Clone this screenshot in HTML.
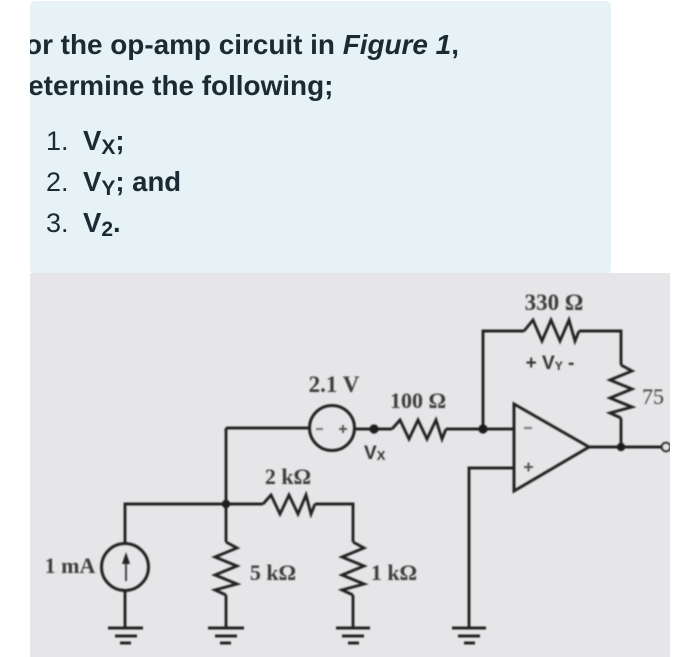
<!DOCTYPE html>
<html>
<head>
<meta charset="utf-8">
<style>
html,body{margin:0;padding:0;background:#fff;width:700px;height:657px;overflow:hidden}
svg{display:block}
.t{font-family:"Liberation Sans",sans-serif;fill:#1b2a33}
.s{font-family:"Liberation Serif",serif;font-weight:bold;fill:#3a3a3a;font-size:22px}
.w{fill:none;stroke:#242424;stroke-width:2.9;stroke-linejoin:miter}
</style>
</head>
<body>
<svg width="700" height="657" viewBox="0 0 700 657" xmlns="http://www.w3.org/2000/svg">
<defs>
<clipPath id="c"><rect x="30" y="0" width="581" height="273"/></clipPath>
<clipPath id="g"><rect x="30" y="273" width="640" height="384"/></clipPath>
<filter id="b" x="-5%" y="-5%" width="110%" height="110%"><feGaussianBlur stdDeviation="0.7"/></filter>
</defs>
<rect x="30" y="1" width="581" height="273" rx="5" fill="#e6f2f5"/>
<g clip-path="url(#c)" style="filter:blur(.35px)">
<text class="t" x="8" y="54" font-size="27.9" font-weight="bold">For the op-amp circuit in <tspan font-style="italic">Figure 1</tspan>,</text>
<text class="t" x="8" y="95" font-size="27.9" font-weight="bold">Determine the following;</text>
<text class="t" x="46" y="150" font-size="27">1.</text>
<text class="t" x="83" y="150" font-size="27.5" font-weight="bold">V<tspan font-size="21" dy="4">X</tspan><tspan dy="-4">;</tspan></text>
<text class="t" x="46" y="191" font-size="27">2.</text>
<text class="t" x="83" y="191" font-size="27.5" font-weight="bold">V<tspan font-size="21" dy="4">Y</tspan><tspan dy="-4">; and</tspan></text>
<text class="t" x="46" y="232" font-size="27">3.</text>
<text class="t" x="83" y="232" font-size="27.5" font-weight="bold">V<tspan font-size="21" dy="4">2</tspan><tspan dy="-4">.</tspan></text>
</g>
<rect x="30" y="273" width="640" height="384" fill="#e6e6e8"/>
<g clip-path="url(#g)">
<g filter="url(#b)">
<!-- wires -->
<path class="w" d="M226 428V542M226 595V628M125 543V504H263M315 504H353V542M353 595V628M125 591V628"/>
<path class="w" d="M226 428H310M354 429H392M446 429H514M483 429V331H524M579 331H621V365M621 418V447M589 447H662"/>
<path class="w" d="M514 468H469V628"/>
<!-- resistors -->
<polyline class="w" points="524,331 533,320 542,341 551,320 560,341 569,320 575,341 579,331"/>
<polyline class="w" points="392,429 400,420 409,439 418,420 427,439 436,420 442,439 446,429"/>
<polyline class="w" points="263,504 271,495 280,514 289,495 298,514 306,495 311,514 315,504"/>
<polyline class="w" points="226,542 237,548 215,557 237,566 215,575 237,584 215,590 226,595"/>
<polyline class="w" points="353,542 364,548 342,557 364,566 342,575 364,584 342,590 353,595"/>
<polyline class="w" points="621,365 632,371 610,380 632,389 610,398 632,407 610,413 621,418"/>
<!-- op-amp -->
<polygon points="514,404 589,447 514,491" fill="none" stroke="#242424" stroke-width="3"/>
<path d="M524 428H532" stroke="#777" stroke-width="2" fill="none"/>
<path d="M524 467H533M528.500 462.500V471.500" stroke="#555" stroke-width="2" fill="none"/>
<!-- sources -->
<circle cx="332" cy="428" r="22.500" fill="none" stroke="#242424" stroke-width="3"/>
<path d="M316 429H323" stroke="#777" stroke-width="2" fill="none"/>
<path d="M339 429H347M343 425V433" stroke="#555" stroke-width="2" fill="none"/>
<circle cx="125" cy="567" r="23.500" fill="none" stroke="#242424" stroke-width="3"/>
<path d="M126 581V562" stroke="#444" stroke-width="2" fill="none"/>
<polygon points="126,552 130,564 122,564" fill="#222"/>
<!-- nodes -->
<circle cx="226" cy="504" r="4.200" fill="#1c1c1c"/>
<circle cx="374" cy="429" r="4.600" fill="#1c1c1c"/>
<circle cx="483" cy="429" r="4.600" fill="#1c1c1c"/>
<circle cx="621" cy="447" r="4.200" fill="#1c1c1c"/>
<circle cx="666" cy="447" r="4.200" fill="#e6e6e8" stroke="#242424" stroke-width="2.200"/>
<!-- grounds -->
<path class="w" d="M108 628H143M115 636H137M120 643H131"/>
<path class="w" d="M208 628H244M215 636H237M220 643H231"/>
<path class="w" d="M336 628H370M342 636H364M348 643H359"/>
<path class="w" d="M452 628H486M458 636H480M464 643H475"/>
<!-- labels -->
<text class="s" x="554" y="310" text-anchor="middle" style="font-size:23px">330 Ω</text>
<text x="550" y="369" text-anchor="middle" font-family="Liberation Sans,sans-serif" font-weight="bold" font-size="19" fill="#333">+ V<tspan font-size="12" dy="1">Y</tspan><tspan dy="-1"> -</tspan></text>
<text class="s" x="418" y="408" text-anchor="middle">100 Ω</text>
<text class="s" x="653" y="404" text-anchor="middle" style="font-weight:normal">75</text>
<text class="s" x="334" y="392" text-anchor="middle" style="font-size:23px">2.1 V</text>
<text x="364" y="459" font-family="Liberation Sans,sans-serif" font-weight="bold" font-size="19" fill="#333">V<tspan font-size="13" dy="1">X</tspan></text>
<text class="s" x="288" y="484" text-anchor="middle">2 kΩ</text>
<text class="s" x="273" y="580" text-anchor="middle">5 kΩ</text>
<text class="s" x="394" y="580" text-anchor="middle">1 kΩ</text>
<text class="s" x="70" y="573" text-anchor="middle">1 mA</text>
</g>
</g>
</svg>
</body>
</html>
